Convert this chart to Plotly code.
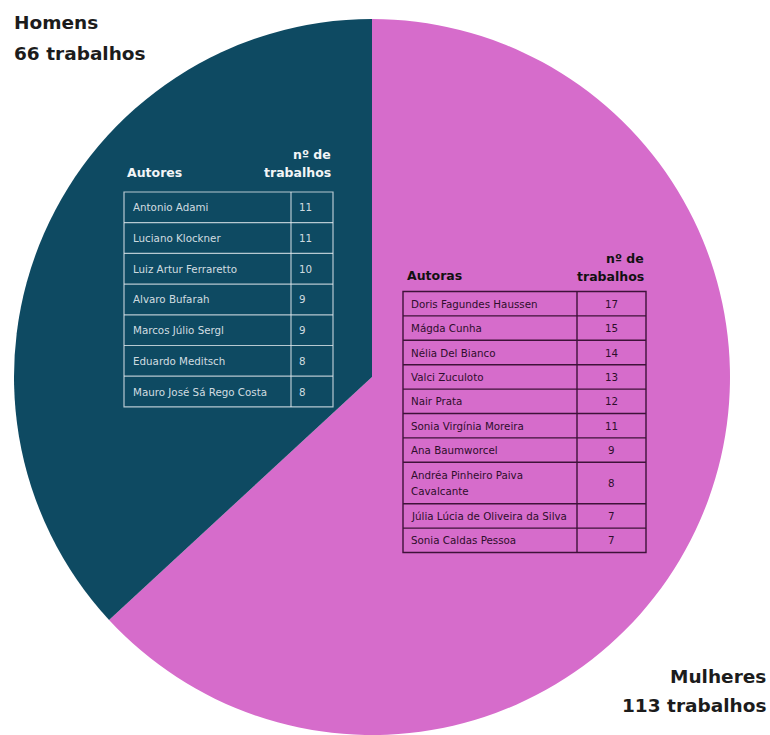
import plotly.graph_objects as go

groups = ["Mulheres", "Homens"]
works = [113, 66]
group_colors = ["#D66CCB", "#0E4A62"]

men_authors = ["Antonio Adami", "Luciano Klockner", "Luiz Artur Ferraretto", "Alvaro Bufarah",
               "Marcos Júlio Sergl", "Eduardo Meditsch", "Mauro José Sá Rego Costa"]
men_counts = [11, 11, 10, 9, 9, 8, 8]

women_authors = ["Doris Fagundes Haussen", "Mágda Cunha", "Nélia Del Bianco", "Valci Zuculoto",
                 "Nair Prata", "Sonia Virgínia Moreira", "Ana Baumworcel",
                 "Andréa Pinheiro Paiva<br>Cavalcante", "Júlia Lúcia de Oliveira da Silva",
                 "Sonia Caldas Pessoa"]
women_counts = [17, 15, 14, 13, 12, 11, 9, 8, 7, 7]

W, H = 770, 735
cx, cy, r = 372, 377, 358

fig = go.Figure()
fig.add_trace(go.Pie(
    labels=groups, values=works, sort=False, direction="clockwise", rotation=0,
    marker=dict(colors=group_colors, line=dict(width=0)),
    textinfo="none", hoverinfo="label+value", showlegend=False,
    domain=dict(x=[(cx - r) / W, (cx + r) / W], y=[(H - cy - r) / H, (H - cy + r) / H]),
))

def px(x):
    return x / W

def py(y):
    return 1 - y / H

HEAD_FONT = "DejaVu Sans, sans-serif"
CELL_FONT = "DejaVu Sans, sans-serif"


def draw_table(names, counts, left, right, divider, top, base_h, extra_h, line_color, line_w,
               text_color, head_color, head_left, head_y, num_align, num_x, name_x,
               title, cell_size, line_gap):
    # header
    fig.add_annotation(x=px(head_left), y=py(head_y[0]), xref="paper", yref="paper",
                       xanchor="left", yanchor="middle", showarrow=False,
                       text=f"<b>{title}</b>",
                       font=dict(family=HEAD_FONT, size=12.5, color=head_color))
    fig.add_annotation(x=px(right), y=py(head_y[1]), xref="paper", yref="paper",
                       xanchor="right", yanchor="middle", showarrow=False,
                       text="<b>nº de</b>", font=dict(family=HEAD_FONT, size=12.5, color=head_color))
    fig.add_annotation(x=px(right), y=py(head_y[2]), xref="paper", yref="paper",
                       xanchor="right", yanchor="middle", showarrow=False,
                       text="<b>trabalhos</b>", font=dict(family=HEAD_FONT, size=12.5, color=head_color))
    y = top
    bounds = [y]
    for name, cnt in zip(names, counts):
        lines = name.split("<br>")
        h = base_h + extra_h * (len(lines) - 1)
        mid = y + h / 2
        for i, ln in enumerate(lines):
            ly = mid + (i - (len(lines) - 1) / 2) * line_gap
            fig.add_annotation(x=px(name_x), y=py(ly), xref="paper", yref="paper",
                               xanchor="left", yanchor="middle", showarrow=False, text=ln,
                               font=dict(family=CELL_FONT, size=cell_size, color=text_color))
        fig.add_annotation(x=px(num_x), y=py(mid), xref="paper", yref="paper",
                           xanchor=num_align, yanchor="middle", showarrow=False, text=str(cnt),
                           font=dict(family=CELL_FONT, size=cell_size, color=text_color))
        y += h
        bounds.append(y)
    ln = dict(color=line_color, width=line_w)
    fig.add_shape(type="rect", xref="paper", yref="paper", x0=px(left), x1=px(right),
                  y0=py(bounds[0]), y1=py(bounds[-1]), line=ln, layer="above")
    fig.add_shape(type="line", xref="paper", yref="paper", x0=px(divider), x1=px(divider),
                  y0=py(bounds[0]), y1=py(bounds[-1]), line=ln, layer="above")
    for b in bounds[1:-1]:
        fig.add_shape(type="line", xref="paper", yref="paper", x0=px(left), x1=px(right),
                      y0=py(b), y1=py(b), line=ln, layer="above")


draw_table(men_authors, men_counts, left=124, right=333, divider=291, top=192, base_h=30.7,
           extra_h=0, line_color="rgba(225,232,238,0.8)", line_w=1.2,
           text_color="rgba(232,238,242,0.9)", head_color="#F2F5F7", head_left=125,
           head_y=(172, 154, 172), num_align="left", num_x=297, name_x=131,
           title="Autores", cell_size=10.3, line_gap=16)

draw_table(women_authors, women_counts, left=403, right=646, divider=577, top=291.5, base_h=24.4,
           extra_h=17, line_color="#3E1239", line_w=1.4,
           text_color="#2E0E2B", head_color="#111111", head_left=405,
           head_y=(275, 258, 276), num_align="center", num_x=611.5, name_x=409,
           title="Autoras", cell_size=10.3, line_gap=16)

TITLE_FONT = dict(family="DejaVu Sans, sans-serif", size=18.5, color="#1C1C1C")
fig.add_annotation(x=px(12), y=py(23), xref="paper", yref="paper", xanchor="left", yanchor="middle",
                   text="<b>Homens</b>", showarrow=False, font=TITLE_FONT)
fig.add_annotation(x=px(12), y=py(53), xref="paper", yref="paper", xanchor="left", yanchor="middle",
                   text="<b>66 trabalhos</b>", showarrow=False, font=TITLE_FONT)
fig.add_annotation(x=px(768), y=py(676), xref="paper", yref="paper", xanchor="right", yanchor="middle",
                   text="<b>Mulheres</b>", showarrow=False, font=TITLE_FONT)
fig.add_annotation(x=px(768), y=py(705), xref="paper", yref="paper", xanchor="right", yanchor="middle",
                   text="<b>113 trabalhos</b>", showarrow=False, font=TITLE_FONT)

fig.update_layout(width=W, height=H, margin=dict(l=0, r=0, t=0, b=0),
                  paper_bgcolor="white", plot_bgcolor="white")
fig.write_html("out.html", config={"displayModeBar": False},
               post_script="document.body.style.margin='0';document.body.style.overflow='hidden';")
